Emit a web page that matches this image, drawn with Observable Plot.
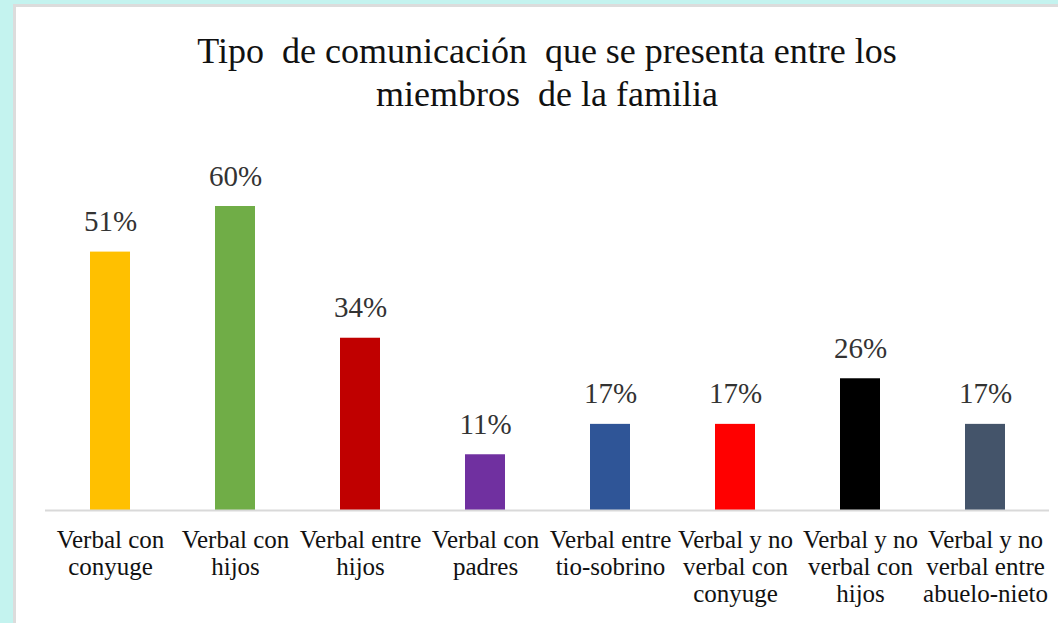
<!DOCTYPE html>
<html>
<head>
<meta charset="utf-8">
<script src="https://cdn.jsdelivr.net/npm/d3@7"></script>
<script src="https://cdn.jsdelivr.net/npm/@observablehq/plot@0.6"></script>
<style>
  html, body { margin: 0; padding: 0; }
  body { width: 1058px; height: 623px; background: #c4f3ef; position: relative; overflow: hidden; font-family: "Liberation Serif", Tinos, "Times New Roman", Times, "DejaVu Serif", serif; }
  #panel { position: absolute; left: 13px; top: 4px; width: 1045px; height: 619px; background: #fff; border-left: 3px solid #dcdcdc; border-top: 3px solid #dcdcdc; box-sizing: border-box; }
  #title { position: absolute; left: 0; top: 30px; width: 1058px; padding-left: 36px; box-sizing: border-box; text-align: center; font-size: 36px; line-height: 43px; color: #111; white-space: pre; }
  #chart { position: absolute; left: 0; top: 140px; }
  #chart svg text { font-family: "Liberation Serif", Tinos, "Times New Roman", Times, "DejaVu Serif", serif; }
</style>
</head>
<body>
<div id="panel"></div>
<div id="title">Tipo  de comunicación  que se presenta entre los
miembros  de la familia</div>
<div id="chart"></div>
<script>
const categories = [
  "Verbal con conyuge",
  "Verbal con hijos",
  "Verbal entre hijos",
  "Verbal con padres",
  "Verbal entre tio-sobrino",
  "Verbal y no verbal con conyuge",
  "Verbal y no verbal con hijos",
  "Verbal y no verbal entre abuelo-nieto"
];
const tickLabels = [
  "Verbal con\nconyuge",
  "Verbal con\nhijos",
  "Verbal entre\nhijos",
  "Verbal con\npadres",
  "Verbal entre\ntio-sobrino",
  "Verbal y no\nverbal con\nconyuge",
  "Verbal y no\nverbal con\nhijos",
  "Verbal y no\nverbal entre\nabuelo-nieto"
];
const values = [51, 60, 34, 11, 17, 17, 26, 17];
const colors = ["#FFC000", "#70AD47", "#C00000", "#7030A0", "#2F5597", "#FF0000", "#000000", "#44546A"];

const data = categories.map((c, i) => ({cat: c, value: values[i], color: colors[i], tick: tickLabels[i]}));

const chart = Plot.plot({
  width: 1058,
  height: 483,
  marginLeft: 45,
  marginRight: 9,
  marginTop: 66,
  marginBottom: 113,
  style: {background: "transparent", overflow: "visible"},
  x: {domain: categories, paddingInner: 0.68, paddingOuter: 0.34, axis: null},
  y: {domain: [0, 60], axis: null},
  marks: [
    Plot.barY(data, {x: "cat", y: "value", fill: "color"}),
    Plot.ruleY([0], {stroke: "#d9d9d9", strokeWidth: 2}),
    Plot.text(data, {x: "cat", y: "value", text: d => d.value + "%", lineAnchor: "bottom", dy: -21, fontSize: 29, fill: "#333"}),
    Plot.text(data, {x: "cat", y: 0, text: "tick", lineAnchor: "top", dy: 18, fontSize: 25, lineHeight: 1.08, fill: "#111"})
  ]
});
document.getElementById("chart").appendChild(chart);
</script>
</body>
</html>
